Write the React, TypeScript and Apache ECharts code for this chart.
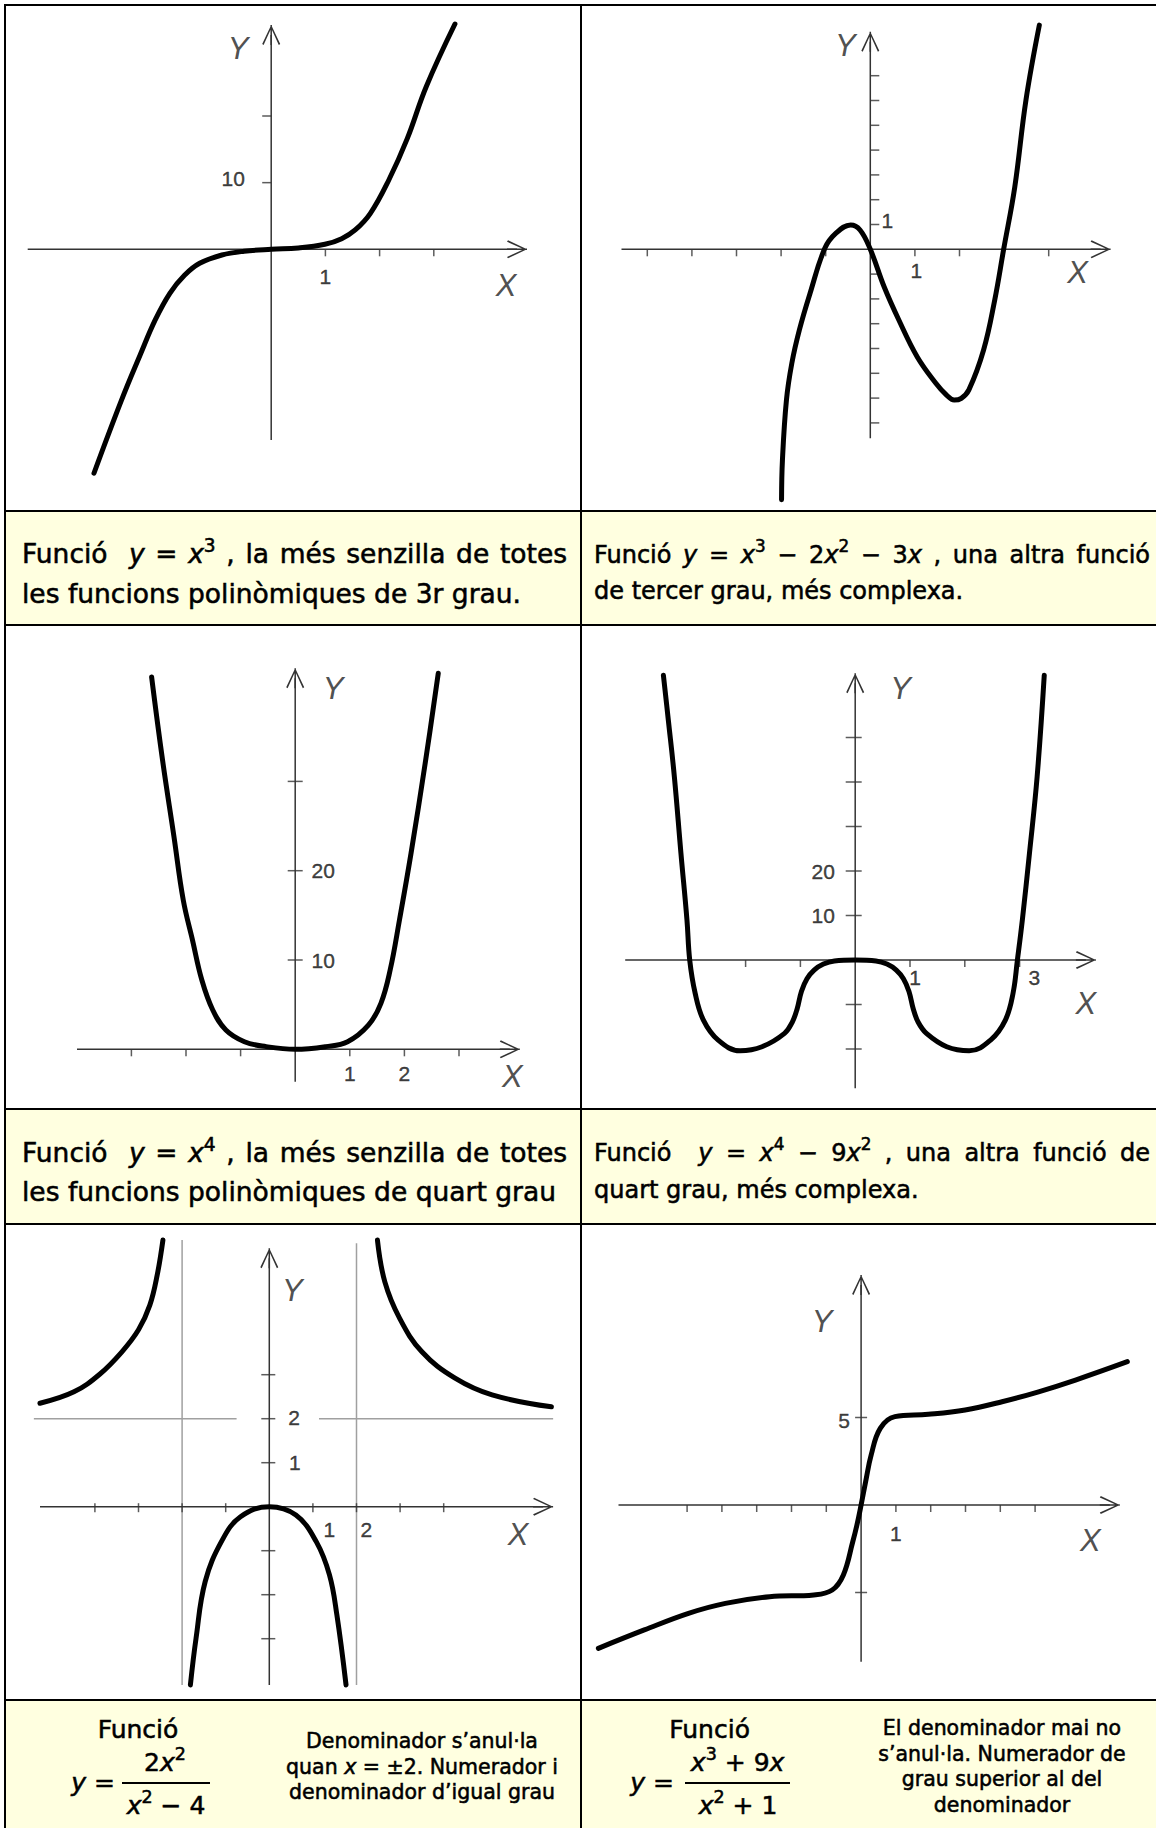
import React, { useEffect, useRef } from "react";
import * as echarts from "echarts";

type Pt = [number, number];

// ---------------- DATA ----------------
// Graph 1 : y = x^3
const g1Curve: Pt[] = [
  [-3.27, -33.6], [-2.76, -22.6], [-2.42, -15.9], [-2.14, -10.6], [-1.87, -6.6],
  [-1.6, -3.9], [-1.32, -2.1], [-0.91, -0.86], [-0.5, -0.3], [0, 0], [0.5, 0.2],
  [0.99, 0.75], [1.3, 1.6], [1.55, 2.9], [1.83, 5.4], [2.17, 10.4], [2.51, 16.6],
  [2.86, 24.4], [3.39, 33.8],
];
const g1XTicks = [1, 2, 3];
const g1YTicks = [10, 20];
const g1XLabels = [1];
const g1YLabels = [10];

// Graph 2 : y = x^3 - 2x^2 - 3x
const g2Curve: Pt[] = [
  [-1.99, -10.1], [-1.97, -8.5], [-1.88, -6.08], [-1.76, -4.6], [-1.59, -3.25],
  [-1.35, -1.77], [-1.02, 0.04], [-0.77, 0.65], [-0.44, 0.98], [-0.23, 0.78], [0, 0],
  [0.31, -1.51], [0.64, -2.85], [1.05, -4.33], [1.47, -5.4], [1.71, -5.88], [1.88, -6.08],
  [2.04, -6.01], [2.21, -5.67], [2.54, -4.06], [2.79, -2.04], [2.99, 0], [3.24, 2.52],
  [3.49, 6.02], [3.79, 9.04],
];
const g2XTicks = [-5, -4, -3, -2, -1, 1, 2, 3, 4];
const g2YTicks = [-7, -6, -5, -4, -3, -2, -1, 1, 2, 3, 4, 5, 6, 7];
const g2XLabels = [1];
const g2YLabels = [1];

// Graph 3 : y = x^4
const g3Curve: Pt[] = [
  [-2.63, 41.7], [-2.43, 32.4], [-2.22, 23.8], [-2.05, 16.7], [-1.88, 12.2],
  [-1.71, 7.76], [-1.51, 4.4], [-1.27, 2.16], [-0.93, 0.85], [-0.53, 0.3], [0, 0],
  [0.56, 0.3], [0.96, 0.85], [1.34, 2.7], [1.57, 5.15], [1.74, 8.9], [1.91, 14.5],
  [2.12, 21.9], [2.39, 32.4], [2.62, 42.1],
];
const g3XTicks = [-3, -2, -1, 1, 2, 3];
const g3YTicks = [10, 20, 30];
const g3XLabels = [1, 2];
const g3YLabels = [10, 20];

// Graph 4 : y = x^4 - 9x^2
const g4Curve: Pt[] = [
  [-3.5, 64.0], [-3.41, 53.9], [-3.3, 41.2], [-3.18, 24.0], [-3.07, 9.0], [-3.02, 0],
  [-2.92, -7.5], [-2.77, -13.5], [-2.5, -18.0], [-2.1, -20.4], [-1.7, -19.5],
  [-1.29, -16.5], [-1.15, -14.0], [-1.06, -11.0], [-0.98, -7.0], [-0.88, -4.2],
  [-0.75, -2.25], [-0.58, -0.9], [-0.38, -0.2], [0, 0], [0.38, -0.2], [0.58, -0.9],
  [0.75, -2.25], [0.88, -4.2], [0.98, -7.0], [1.06, -11.0], [1.15, -14.0], [1.3, -16.5],
  [1.67, -19.5], [2.08, -20.4], [2.47, -18.0], [2.74, -13.5], [2.88, -7.5], [2.96, 0],
  [3.05, 9.0], [3.18, 24.0], [3.32, 41.2], [3.45, 64.0],
];
const g4XTicks = [-3, -2, -1, 1, 2, 3];
const g4YTicks = [-20, -10, 10, 20, 30, 40, 50];
const g4XLabels = [1, 3];
const g4YLabels = [10, 20];

// Graph 5 : y = 2x^2 / (x^2 - 4)
const g5LeftBranch: Pt[] = [
  [-5.26, 2.35], [-4.48, 2.61], [-3.89, 3.01], [-3.38, 3.52], [-3.0, 4.02],
  [-2.74, 4.58], [-2.57, 5.27], [-2.44, 6.06],
];
const g5MiddleBranch: Pt[] = [
  [-1.81, -4.05], [-1.68, -2.99], [-1.47, -1.7], [-1.08, -0.76], [-0.66, -0.23], [0, 0],
  [0.61, -0.19], [1.08, -0.8], [1.38, -1.55], [1.55, -2.46], [1.76, -4.05],
];
const g5RightBranch: Pt[] = [
  [2.48, 6.06], [2.65, 5.11], [2.99, 4.28], [3.5, 3.52], [4.26, 2.92], [5.11, 2.54],
  [6.47, 2.27],
];
const g5AsymptoteLeft: Pt[] = [[-2, -4.05], [-2, 6.06]];
const g5AsymptoteRight: Pt[] = [[2, -4.05], [2, 5.99]];
const g5HorizontalLeft: Pt[] = [[-5.4, 2], [-0.75, 2]];
const g5HorizontalRight: Pt[] = [[1.14, 2], [6.51, 2]];
const g5XTicks = [-4, -3, -2, -1, 1, 2, 3, 4];
const g5YTicks = [-3, -2, -1, 1, 2, 3];
const g5XLabels = [1, 2];
const g5YLabels = [1, 2];

// Graph 6 : y = (x^3 + 9x) / (x^2 + 1)
const g6Curve: Pt[] = [
  [-7.55, -8.19], [-6.23, -7.14], [-4.96, -6.19], [-3.9, -5.62], [-2.63, -5.24],
  [-1.36, -5.14], [-0.83, -4.86], [-0.51, -4.0], [-0.24, -2.1], [-0.12, -1.14], [0, 0],
  [0.13, 1.33], [0.29, 2.86], [0.55, 4.38], [0.97, 5.05], [1.93, 5.18], [2.99, 5.43],
  [4.05, 5.9], [5.1, 6.47], [6.16, 7.14], [7.65, 8.19],
];
const g6XTicks = [-5, -4, -3, -2, -1, 1, 2, 3, 4, 5];
const g6YTicks = [-5, 5];
const g6XLabels = [1];
const g6YLabels = [5];

// ---------------- LAYOUT / STYLE ----------------
const FONT = '"DejaVu Sans", Verdana, sans-serif';
const AXIS_FONT = '"Liberation Sans", Arial, sans-serif';
const AXIS_COLOR = "#333";
const TICK_COLOR = "#333";
const CURVE_COLOR = "#000";
const ASYM_COLOR = "#a0a0a0";
const ARROW_LEN = 20;
const ARROW_W = 18;
const ARROW =
  "path://M9,0L18,19L16.6,20L9,3.2L1.4,20L0,19Z M8.25,0L9.75,0L9.75,20L8.25,20Z";

type Layout = { ox: number; oy: number; ux: number; uy: number; xl: number; xTip: number; yTip: number; yb: number };
type Cell = { l: number; t: number; r: number; b: number };
type TickMode = "down" | "cross" | "left" | "right";

interface GraphSpec {
  cell: Cell;
  layout: Layout;
  curves: Pt[][];
  guides?: Pt[][];
  xTicks: number[];
  yTicks: number[];
  xLabels: number[];
  yLabels: number[];
  xTick: { len: number; mode: TickMode; bias?: number };
  yTick: { len: number; mode: TickMode; bias?: number };
  xLabelOffsets: number[][];
  yLabelOffsets: number[][];
  xNameOffset: number[];
  yNameOffset: number[];
}

const GRAPHS: GraphSpec[] = [
  {
    cell: { l: 6, t: 6, r: 580, b: 510 },
    layout: { ox: 271.2, oy: 249.3, ux: 54.2, uy: 6.665, xl: 27.7, xTip: 527, yTip: 25, yb: 440 },
    curves: [g1Curve], xTicks: g1XTicks, yTicks: g1YTicks, xLabels: g1XLabels, yLabels: g1YLabels,
    xTick: { len: 7, mode: "down" }, yTick: { len: 9, mode: "left" },
    xLabelOffsets: [[0, 27]], yLabelOffsets: [[-38, -4]],
    xNameOffset: [-11, 36], yNameOffset: [-33, 13],
  },
  {
    cell: { l: 582, t: 6, r: 1156, b: 510 },
    layout: { ox: 870.3, oy: 249.3, ux: 44.6, uy: 24.8, xl: 621.5, xTip: 1110.6, yTip: 31.7, yb: 438.3 },
    curves: [g2Curve], xTicks: g2XTicks, yTicks: g2YTicks, xLabels: g2XLabels, yLabels: g2YLabels,
    xTick: { len: 7, mode: "down" }, yTick: { len: 9, mode: "right" },
    xLabelOffsets: [[1.5, 21]], yLabelOffsets: [[17, -4.5]],
    xNameOffset: [-23, 23.5], yNameOffset: [-25, 3.3],
  },
  {
    cell: { l: 6, t: 626, r: 580, b: 1108 },
    layout: { ox: 295.2, oy: 1049.3, ux: 54.6, uy: 8.93, xl: 77, xTip: 519.8, yTip: 668.3, yb: 1081.7 },
    curves: [g3Curve], xTicks: g3XTicks, yTicks: g3YTicks, xLabels: g3XLabels, yLabels: g3YLabels,
    xTick: { len: 7, mode: "down" }, yTick: { len: 15, mode: "cross" },
    xLabelOffsets: [[0, 24], [0, 24]], yLabelOffsets: [[28, 0], [28, 0]],
    xNameOffset: [2.6, 27.4], yNameOffset: [37.8, 10],
  },
  {
    cell: { l: 582, t: 626, r: 1156, b: 1108 },
    layout: { ox: 855.2, oy: 960, ux: 54.8, uy: 4.45, xl: 625.2, xTip: 1095.9, yTip: 673.3, yb: 1088.3 },
    curves: [g4Curve], xTicks: g4XTicks, yTicks: g4YTicks, xLabels: g4XLabels, yLabels: g4YLabels,
    xTick: { len: 7, mode: "down" }, yTick: { len: 16, mode: "cross", bias: -1.5 },
    xLabelOffsets: [[5, 17], [14.7, 17.3]], yLabelOffsets: [[-32, 0], [-32, 0]],
    xNameOffset: [0, 43], yNameOffset: [45.3, 5],
  },
  {
    cell: { l: 6, t: 1225, r: 580, b: 1699 },
    layout: { ox: 269.3, oy: 1506.7, ux: 43.6, uy: 44.0, xl: 40, xTip: 553.1, yTip: 1248.3, yb: 1685 },
    curves: [g5LeftBranch, g5MiddleBranch, g5RightBranch],
    guides: [g5AsymptoteLeft, g5AsymptoteRight, g5HorizontalLeft, g5HorizontalRight],
    xTicks: g5XTicks, yTicks: g5YTicks, xLabels: g5XLabels, yLabels: g5YLabels,
    xTick: { len: 9, mode: "cross", bias: 1 }, yTick: { len: 14, mode: "cross", bias: -1 },
    xLabelOffsets: [[16.4, 22.6], [9.8, 22.6]], yLabelOffsets: [[25.6, 0], [24.8, -1]],
    xNameOffset: [-25, 27.6], yNameOffset: [23, 31.7],
  },
  {
    cell: { l: 582, t: 1225, r: 1156, b: 1699 },
    layout: { ox: 861.1, oy: 1505, ux: 34.8, uy: 17.5, xl: 618.5, xTip: 1119.8, yTip: 1275, yb: 1661.7 },
    curves: [g6Curve], xTicks: g6XTicks, yTicks: g6YTicks, xLabels: g6XLabels, yLabels: g6YLabels,
    xTick: { len: 7, mode: "down" }, yTick: { len: 12, mode: "cross" },
    xLabelOffsets: [[0, 28.3]], yLabelOffsets: [[-17, 2.5]],
    xNameOffset: [-19.5, 35], yNameOffset: [-39, 36],
  },
];

function tickOffset(axis: "x" | "y", t: { len: number; mode: TickMode; bias?: number }) {
  const b = t.bias || 0;
  if (axis === "x") {
    if (t.mode === "down") return [0, t.len / 2];
    return [0, b];
  }
  if (t.mode === "left") return [-t.len / 2, 0];
  if (t.mode === "right") return [t.len / 2, 0];
  return [b, 0];
}

function buildOption() {
  const grid: any[] = [];
  const xAxis: any[] = [];
  const yAxis: any[] = [];
  const series: any[] = [];

  GRAPHS.forEach((g, i) => {
    const L = g.layout;
    const C = g.cell;
    // axis scales span the whole graph cell
    grid.push({ left: C.l, top: C.t, width: C.r - C.l, height: C.b - C.t, containLabel: false });
    const hidden = { show: false };
    xAxis.push({
      type: "value", gridIndex: i, min: (C.l - L.ox) / L.ux, max: (C.r - L.ox) / L.ux,
      axisLine: hidden, axisTick: hidden, axisLabel: hidden, splitLine: hidden,
    });
    yAxis.push({
      type: "value", gridIndex: i, min: (L.oy - C.b) / L.uy, max: (L.oy - C.t) / L.uy,
      axisLine: hidden, axisTick: hidden, axisLabel: hidden, splitLine: hidden,
    });

    // drawn axis extents (in data units)
    const axXStart = (L.xl - L.ox) / L.ux;
    const axXEnd = (L.xTip - ARROW_LEN / 2 - L.ox) / L.ux;
    const axYStart = (L.oy - L.yb) / L.uy;
    const axYEnd = (L.oy - (L.yTip + ARROW_LEN / 2)) / L.uy;

    const base = { xAxisIndex: i, yAxisIndex: i, silent: true, animation: false };

    const axisSeries = (data: any[]) => ({
      ...base, type: "line", data, clip: false, z: 3, showSymbol: true, showAllSymbol: true,
      lineStyle: { color: AXIS_COLOR, width: 1.5 },
      itemStyle: { color: AXIS_COLOR, borderWidth: 0 },
    });
    series.push(axisSeries([
      { value: [axXStart, 0], symbol: "none" },
      { value: [axXEnd, 0], symbol: ARROW, symbolSize: [ARROW_W, ARROW_LEN], symbolRotate: -90 },
    ]));
    series.push(axisSeries([
      { value: [0, axYStart], symbol: "none" },
      { value: [0, axYEnd], symbol: ARROW, symbolSize: [ARROW_W, ARROW_LEN], symbolRotate: 0 },
    ]));

    (g.guides || []).forEach((d) => {
      series.push({
        ...base, type: "line", data: d, showSymbol: false, symbol: "none", clip: false, z: 1,
        lineStyle: { color: ASYM_COLOR, width: 1.5 },
      });
    });

    // ticks
    series.push({
      ...base, type: "scatter", symbol: "rect", clip: false, z: 2,
      symbolSize: [1.5, g.xTick.len], symbolOffset: tickOffset("x", g.xTick),
      itemStyle: { color: TICK_COLOR }, data: g.xTicks.map((v) => [v, 0]),
    });
    series.push({
      ...base, type: "scatter", symbol: "rect", clip: false, z: 2,
      symbolSize: [g.yTick.len, 1.5], symbolOffset: tickOffset("y", g.yTick),
      itemStyle: { color: TICK_COLOR }, data: g.yTicks.map((v) => [0, v]),
    });

    // curves
    g.curves.forEach((c) => {
      series.push({
        ...base, type: "line", data: c, smooth: 0.4, showSymbol: false, symbol: "none", clip: false, z: 5,
        lineStyle: { color: CURVE_COLOR, width: 5, cap: "round", join: "round" },
      });
    });

    // tick labels + axis names
    const labelStyle = {
      fontFamily: AXIS_FONT, fontSize: 21, color: "#111", textBorderColor: "#111", textBorderWidth: 0.4,
    };
    const nameStyle = { fontFamily: AXIS_FONT, fontSize: 31, fontStyle: "italic", color: "#222" };
    const labelData: any[] = [];
    g.xLabels.forEach((v, k) => {
      labelData.push({ value: [v, 0], label: { ...labelStyle, formatter: String(v), offset: g.xLabelOffsets[k] } });
    });
    g.yLabels.forEach((v, k) => {
      labelData.push({ value: [0, v], label: { ...labelStyle, formatter: String(v), offset: g.yLabelOffsets[k] } });
    });
    labelData.push({ value: [axXEnd, 0], label: { ...nameStyle, formatter: "X", offset: g.xNameOffset } });
    labelData.push({ value: [0, axYEnd], label: { ...nameStyle, formatter: "Y", offset: g.yNameOffset } });
    series.push({
      ...base, type: "scatter", symbolSize: 1, clip: false, z: 6,
      itemStyle: { color: "rgba(0,0,0,0)" },
      label: { show: true, position: "inside", align: "center", verticalAlign: "middle" },
      data: labelData,
    });
  });

  return { animation: false, backgroundColor: "transparent", grid, xAxis, yAxis, series };
}

// ---------------- caption helpers ----------------
const V = ({ c }: { c: string }) => <span style={{ fontStyle: "italic" }}>{c}</span>;
const S = ({ c }: { c: string }) => (
  <span style={{ fontSize: "0.7em", position: "relative", top: "-0.62em" }}>{c}</span>
);

function TextLine(props: { left: number; width: number; cy: number; size: number; justify?: boolean; children: any }) {
  const { left, width, cy, size, justify, children } = props;
  const lh = Math.round(size * 1.4);
  return (
    <div
      style={{
        position: "absolute", left, top: cy - lh / 2, width, height: lh, lineHeight: `${lh}px`, fontSize: size,
        textAlign: justify ? "justify" : "left", textAlignLast: justify ? "justify" : "left",
        whiteSpace: justify ? "normal" : "nowrap",
      } as any}
    >
      {children}
    </div>
  );
}

function Centered(props: { cx: number; cy: number; size: number; children: any }) {
  const { cx, cy, size, children } = props;
  return (
    <div
      style={{
        position: "absolute", left: cx, top: cy, transform: "translate(-50%,-50%)", fontSize: size,
        lineHeight: 1.2, whiteSpace: "nowrap", textAlign: "center",
      }}
    >
      {children}
    </div>
  );
}

const CAPTION_BG = "#FFFFE0";
const H_BORDERS = [5, 511, 625, 1109, 1224, 1700];
const V_BORDERS = [5, 581];
const CAPTION_ROWS = [[512, 624], [1110, 1223], [1701, 1828]];

export default function App() {
  const ref = useRef<HTMLDivElement>(null);
  useEffect(() => {
    document.body.style.margin = "0";
    document.body.style.overflow = "hidden";
    const chart = echarts.init(ref.current as HTMLDivElement, undefined, { renderer: "svg" });
    chart.setOption(buildOption() as any);
    return () => chart.dispose();
  }, []);

  const LF = 26.5; // left caption font size
  const RF = 24; // right caption font size
  const BF = 25; // bottom formula font size
  const SF = 20.5; // bottom small text

  return (
    <div
      style={{
        position: "absolute", left: 0, top: 0, width: 1156, height: 1828, overflow: "hidden",
        background: "#fff", fontFamily: FONT, color: "#000",
      }}
    >
      {CAPTION_ROWS.map(([t, b], k) => (
        <div key={"bg" + k} style={{ position: "absolute", left: 6, top: t, width: 1150, height: b - t, background: CAPTION_BG }} />
      ))}
      <div ref={ref} style={{ position: "absolute", left: 0, top: 0, width: 1156, height: 1828 }} />
      {H_BORDERS.map((y, k) => (
        <div key={"h" + k} style={{ position: "absolute", left: 4, top: y - 1, width: 1152, height: 2, background: "#000" }} />
      ))}
      {V_BORDERS.map((x, k) => (
        <div key={"v" + k} style={{ position: "absolute", left: x - 1, top: 4, width: 2, height: 1824, background: "#000" }} />
      ))}

      <div style={{ position: "absolute", left: 0, top: 0, width: 1156, height: 1828, WebkitTextStroke: "0.55px #000" } as any}>
        {/* Row 1 captions */}
        <TextLine left={22} width={545} cy={553.5} size={LF} justify>
          Funció&nbsp; <V c="y" /> = <V c="x" /><S c="3" /> , la més senzilla de totes
        </TextLine>
        <TextLine left={22} width={545} cy={593} size={LF}>
          les funcions polinòmiques de 3r grau.
        </TextLine>
        <TextLine left={594} width={556} cy={554.7} size={RF} justify>
          Funció <V c="y" /> = <V c="x" /><S c="3" /> − 2<V c="x" /><S c="2" /> − 3<V c="x" /> , una altra funció
        </TextLine>
        <TextLine left={594} width={556} cy={590.8} size={RF}>
          de tercer grau, més complexa.
        </TextLine>

        {/* Row 2 captions */}
        <TextLine left={22} width={545} cy={1152.5} size={LF} justify>
          Funció&nbsp; <V c="y" /> = <V c="x" /><S c="4" /> , la més senzilla de totes
        </TextLine>
        <TextLine left={22} width={545} cy={1191} size={LF}>
          les funcions polinòmiques de quart grau
        </TextLine>
        <TextLine left={594} width={556} cy={1152.5} size={RF} justify>
          Funció&nbsp; <V c="y" /> = <V c="x" /><S c="4" /> − 9<V c="x" /><S c="2" /> , una altra funció de
        </TextLine>
        <TextLine left={594} width={556} cy={1190} size={RF}>
          quart grau, més complexa.
        </TextLine>

        {/* Row 3 captions: left */}
        <Centered cx={138} cy={1730} size={BF}>Funció</Centered>
        <Centered cx={93} cy={1783} size={BF}><V c="y" /> =</Centered>
        <Centered cx={165} cy={1763} size={BF}>2<V c="x" /><S c="2" /></Centered>
        <Centered cx={166} cy={1806} size={BF}><V c="x" /><S c="2" /> − 4</Centered>
        <Centered cx={422} cy={1741} size={SF}>Denominador s’anul·la</Centered>
        <Centered cx={422} cy={1766.6} size={SF}>quan <V c="x" /> = ±2. Numerador i</Centered>
        <Centered cx={422} cy={1792} size={SF}>denominador d’igual grau</Centered>

        {/* Row 3 captions: right */}
        <Centered cx={709.6} cy={1730} size={BF}>Funció</Centered>
        <Centered cx={652} cy={1783} size={BF}><V c="y" /> =</Centered>
        <Centered cx={737.6} cy={1763} size={BF}><V c="x" /><S c="3" /> + 9<V c="x" /></Centered>
        <Centered cx={738} cy={1806} size={BF}><V c="x" /><S c="2" /> + 1</Centered>
        <Centered cx={1002} cy={1728} size={SF}>El denominador mai no</Centered>
        <Centered cx={1002} cy={1754} size={SF}>s’anul·la. Numerador de</Centered>
        <Centered cx={1002} cy={1779} size={SF}>grau superior al del</Centered>
        <Centered cx={1002} cy={1805} size={SF}>denominador</Centered>
      </div>
      <div style={{ position: "absolute", left: 122, top: 1782, width: 88, height: 2, background: "#000" }} />
      <div style={{ position: "absolute", left: 685, top: 1782, width: 105, height: 2, background: "#000" }} />
    </div>
  );
}
